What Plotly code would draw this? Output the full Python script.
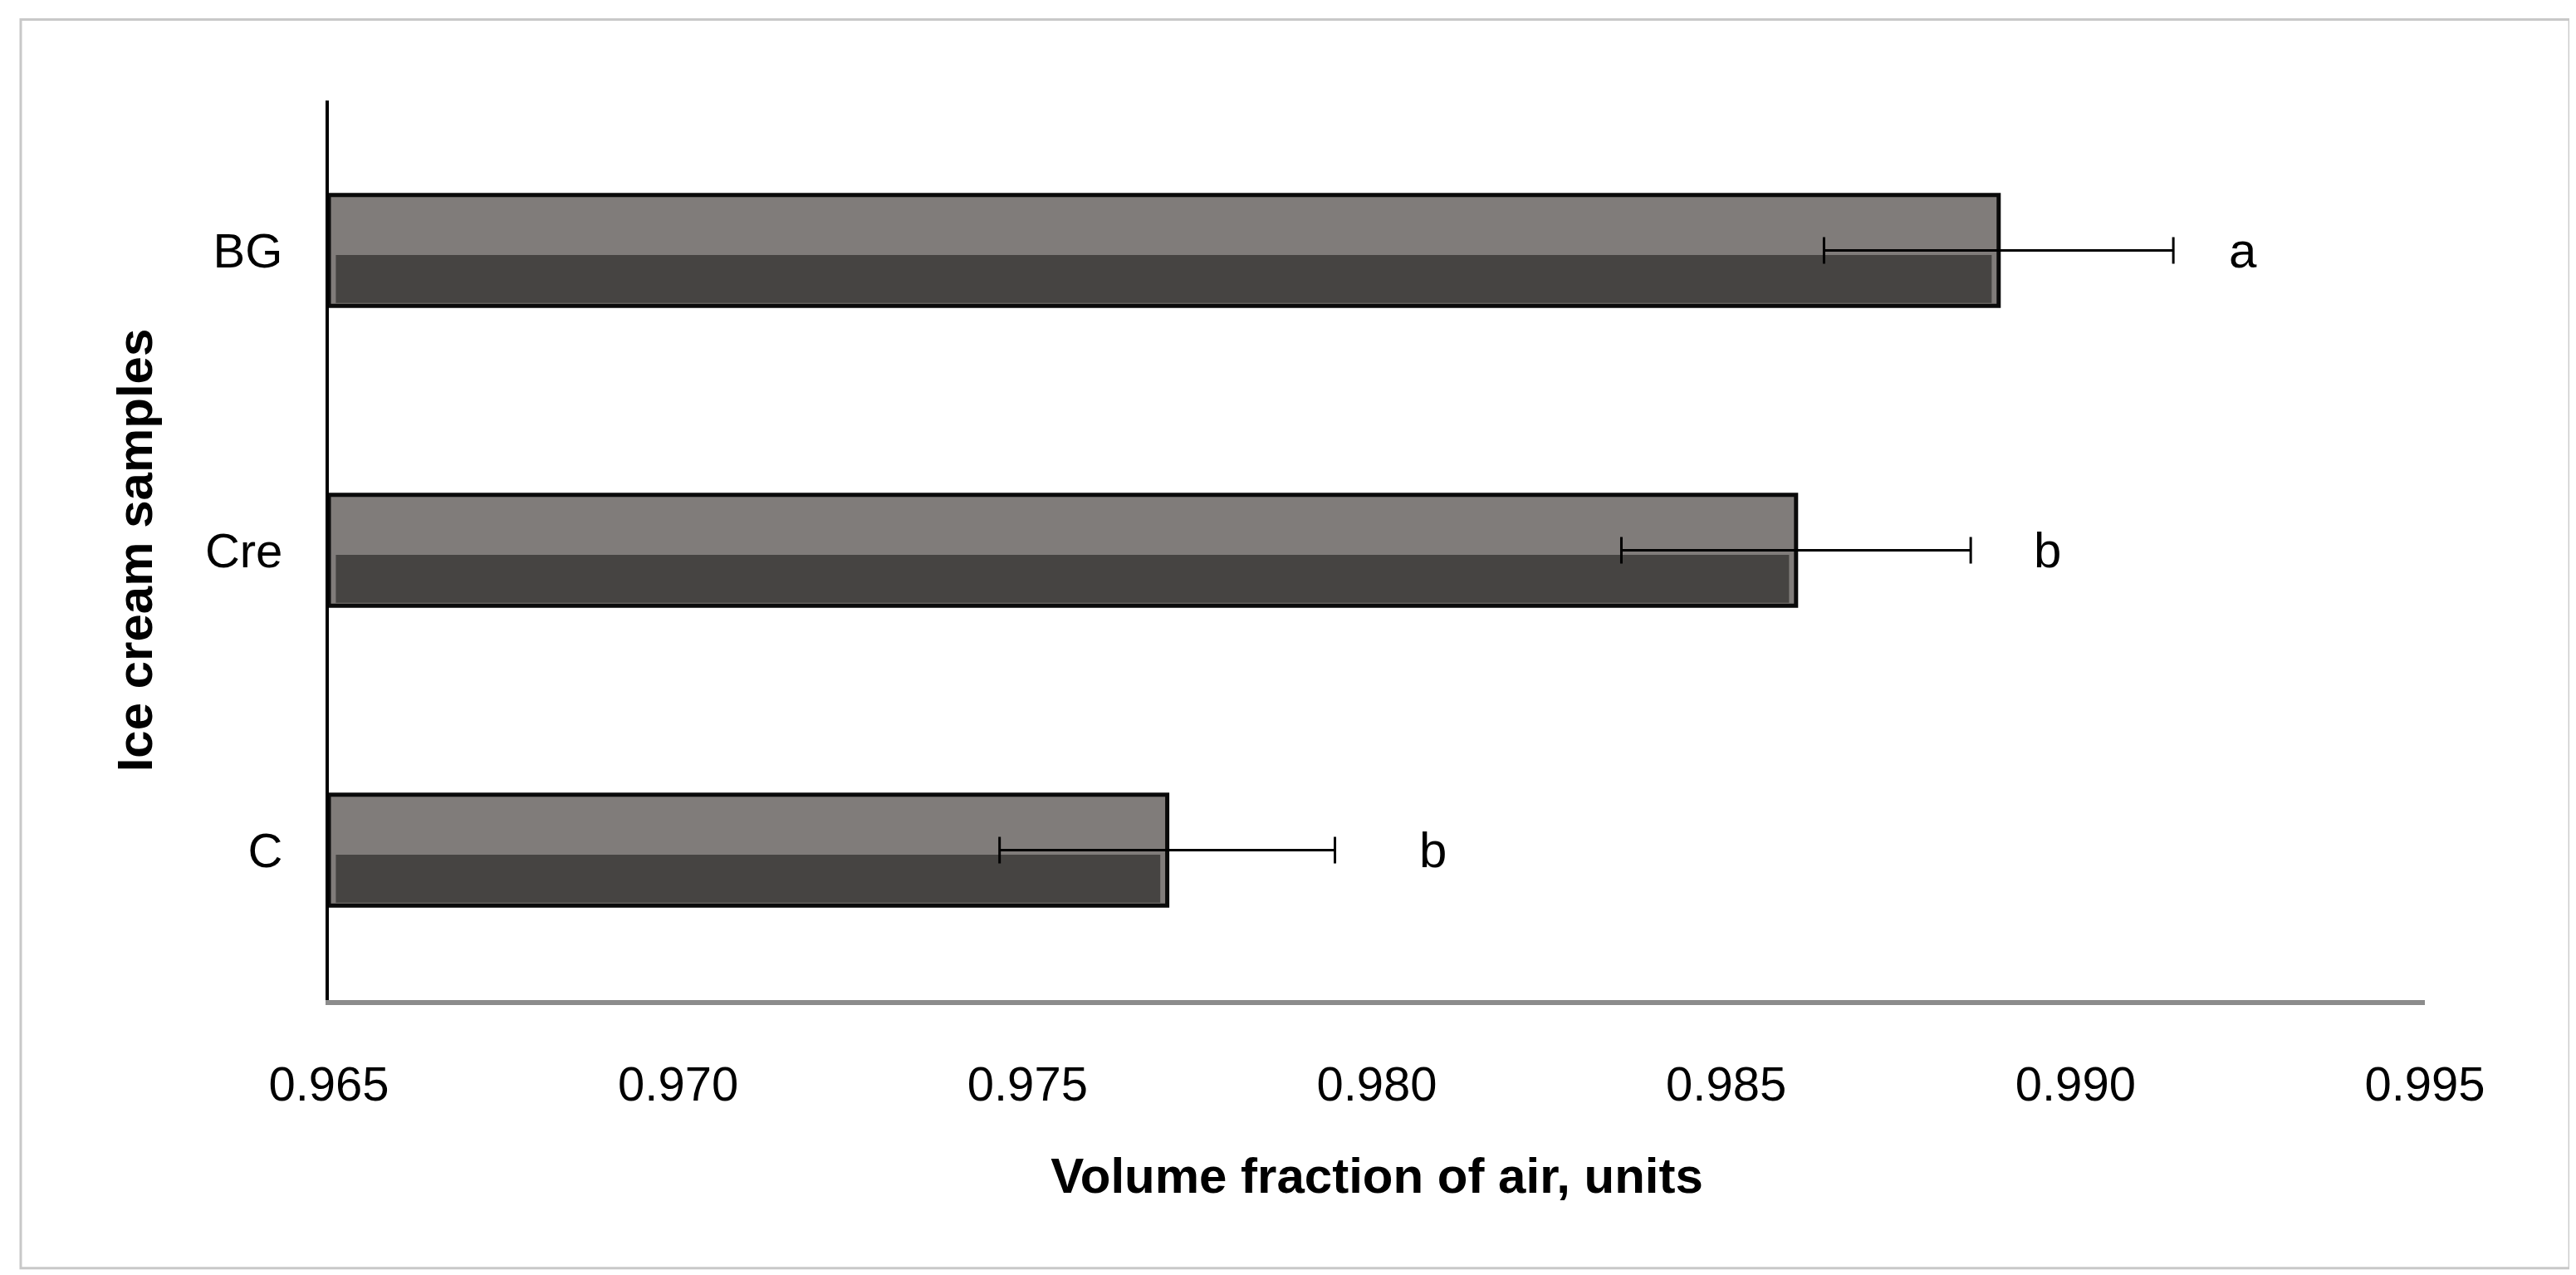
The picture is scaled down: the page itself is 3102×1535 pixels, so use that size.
import plotly.graph_objects as go

samples = ["C", "Cre", "BG"]
values = [0.977, 0.986, 0.9889]
errors = [0.0024, 0.0025, 0.0025]
letters = ["b", "b", "a"]
letter_x = [0.9808, 0.9896, 0.9924]
base = 0.965
FONT = "Liberation Sans, Arial, sans-serif"

fig = go.Figure()
pos = [0, 1, 2]
fig.add_trace(go.Bar(y=pos, x=[v - base for v in values], base=base, orientation="h", width=0.37,
                     marker=dict(color="#807c7a", line=dict(color="#0a0a0a", width=5)), hoverinfo="skip"))
fig.add_trace(go.Bar(y=pos, x=[v - base - 0.0002 for v in values], base=base + 0.0001, orientation="h",
                     width=0.16, offset=-0.175,
                     marker=dict(color="#464442", line=dict(width=0)), hoverinfo="skip"))
fig.add_trace(go.Scatter(y=pos, x=values, mode="markers", marker=dict(size=1, color="rgba(0,0,0,0)"),
                         error_x=dict(type="data", array=errors, color="black", thickness=3, width=16),
                         hoverinfo="skip"))
for p, lx, t in zip(pos, letter_x, letters):
    fig.add_annotation(x=lx, y=p, text=t, showarrow=False, font=dict(family=FONT, size=60, color="black"))

fig.add_shape(type="rect", xref="paper", yref="paper", x0=-0.147, x1=1.069, y0=-0.298, y1=1.09,
              line=dict(color="#c8c8c8", width=3))

fig.update_layout(
    width=3102, height=1535, paper_bgcolor="white", plot_bgcolor="white", barmode="overlay",
    showlegend=False, margin=dict(l=388, r=190, t=113, b=339),
    font=dict(family=FONT, color="black"),
    xaxis=dict(range=[0.965, 0.995], tickvals=[0.965, 0.970, 0.975, 0.980, 0.985, 0.990, 0.995],
               ticktext=["0.965", "0.970", "0.975", "0.980", "0.985", "0.990", "0.995"],
               showgrid=False, zeroline=False, showline=True, linecolor="#8c8c8c", linewidth=6,
               ticks="", tickfont=dict(size=58), ticklabelstandoff=45,
               title=dict(text="<b>Volume fraction of air, units</b>", font=dict(size=60), standoff=60)),
    yaxis=dict(range=[-0.5, 2.5], tickvals=pos, ticktext=samples, showgrid=False, zeroline=False,
               showline=True, linecolor="black", linewidth=4, ticks="", tickfont=dict(size=58),
               ticklabelstandoff=40,
               title=dict(text="<b>Ice cream samples</b>", font=dict(size=60), standoff=45)),
)
fig.write_html("out.html")
